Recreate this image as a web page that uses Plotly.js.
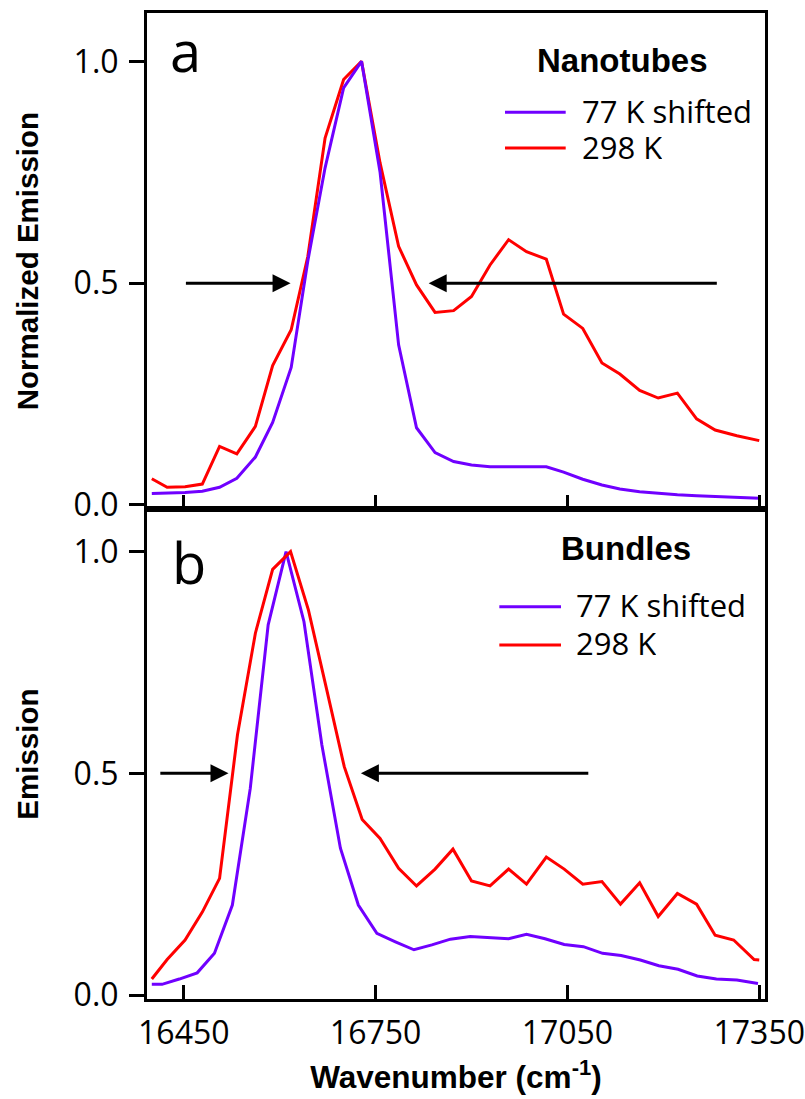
<!DOCTYPE html>
<html>
<head>
<meta charset="utf-8">
<script src="https://cdn.plot.ly/plotly-3.0.1.min.js"></script>
<style>html,body{margin:0;padding:0;background:#fff;}</style>
</head>
<body>
<div id="chart" style="width:805px;height:1099px;"></div>
<script>
// ---- Data ----
// Panel a: nanotubes
var wnA = [16400, 16424, 16452, 16479, 16506, 16533, 16562, 16589, 16618, 16644,
           16671, 16700, 16728, 16757, 16786, 16814, 16843, 16872, 16900, 16929,
           16958, 16986, 17017, 17044, 17074, 17104, 17132, 17163, 17192, 17222,
           17252, 17281, 17315, 17350];
var nano77 = [0.026, 0.027, 0.028, 0.031, 0.040, 0.060, 0.108, 0.186, 0.310, 0.55,
              0.76, 0.94, 1.0, 0.75, 0.361, 0.174, 0.118, 0.098, 0.090, 0.086,
              0.086, 0.087, 0.086, 0.074, 0.058, 0.045, 0.036, 0.030, 0.026, 0.023,
              0.021, 0.019, 0.016, 0.015];
var nano298 = [0.059, 0.040, 0.041, 0.047, 0.132, 0.115, 0.177, 0.314, 0.395, 0.56,
               0.827, 0.959, 1.0, 0.771, 0.583, 0.496, 0.434, 0.438, 0.470, 0.541,
               0.598, 0.571, 0.554, 0.430, 0.398, 0.320, 0.295, 0.258, 0.241, 0.252,
               0.194, 0.169, 0.156, 0.145];

// Panel b: bundles
var wnB77 = [16400, 16416, 16443, 16471, 16498, 16526, 16554, 16582, 16610, 16638,
             16666, 16695, 16723, 16752, 16781, 16810, 16838, 16867, 16898, 16929,
             16958, 16986, 17015, 17045, 17075, 17105, 17134, 17164, 17193, 17223,
             17253, 17283, 17315, 17348];
var bund77 = [0.024, 0.024, 0.036, 0.050, 0.094, 0.203, 0.466, 0.835, 1.0, 0.842,
              0.564, 0.331, 0.203, 0.139, 0.120, 0.102, 0.113, 0.126, 0.132, 0.129,
              0.127, 0.137, 0.127, 0.114, 0.109, 0.094, 0.089, 0.079, 0.066, 0.058,
              0.043, 0.036, 0.034, 0.026];
var wnB298 = [16400, 16424, 16452, 16479, 16506, 16534, 16562, 16589, 16617, 16645,
              16673, 16701, 16729, 16757, 16786, 16814, 16843, 16871, 16900, 16929,
              16958, 16986, 17017, 17045, 17074, 17104, 17133, 17163, 17192, 17222,
              17252, 17281, 17310, 17342, 17350];
var bund298 = [0.036, 0.080, 0.124, 0.187, 0.263, 0.587, 0.816, 0.960, 1.0, 0.868,
               0.692, 0.515, 0.396, 0.353, 0.286, 0.246, 0.284, 0.329, 0.257, 0.246,
               0.284, 0.250, 0.311, 0.284, 0.250, 0.256, 0.205, 0.253, 0.177, 0.229,
               0.205, 0.135, 0.124, 0.080, 0.079];

// Half-width arrows (tail x, tip x) at y = 0.5
var arrowsA = [[16451, 16617], [17286, 16833]];
var arrowsB = [[16411, 16520], [17085, 16727]];

var xTicks = [16450, 16750, 17050, 17350];
var xTickText = ['16450', '16750', '17050', '17350'];
var yTicks = [0, 0.5, 1.0];
var yTickText = ['0.0', '0.5', '1.0'];
var seriesNames = ['77 K shifted', '298 K'];
var panelTitles = ['Nanotubes', 'Bundles'];
var panelLetters = ['a', 'b'];

var PURPLE = '#7000ff', RED = '#ff0000';
var tickFont = {family: 'Open Sans', size: 32, color: '#000'};
var titleFont = {family: 'Liberation Sans', size: 29.5, color: '#000', weight: 'bold'};
var legTextFont = {family: 'Open Sans', size: 31, color: '#000'};
var legTitleFont = {family: 'Liberation Sans', size: 33, color: '#000', weight: 'bold'};

var traces = [
  {x: wnA, y: nano298, xaxis: 'x2', yaxis: 'y2', mode: 'lines', name: seriesNames[1],
   line: {color: RED, width: 3}},
  {x: wnA, y: nano77, xaxis: 'x2', yaxis: 'y2', mode: 'lines', name: seriesNames[0],
   line: {color: PURPLE, width: 3}},
  {x: wnB77, y: bund77, xaxis: 'x', yaxis: 'y', mode: 'lines', name: seriesNames[0],
   line: {color: PURPLE, width: 3}},
  {x: wnB298, y: bund298, xaxis: 'x', yaxis: 'y', mode: 'lines', name: seriesNames[1],
   line: {color: RED, width: 3}}
];

function xAxisCfg(showLabels, anchor) {
  return {
    anchor: anchor, range: [16392.5, 17359], tickvals: xTicks, ticktext: xTickText,
    ticks: 'inside', ticklen: 14, tickwidth: 3, tickcolor: '#000',
    showline: true, mirror: true, linewidth: 3, linecolor: '#000',
    showgrid: false, zeroline: false, showticklabels: showLabels,
    tickfont: tickFont, ticklabelstandoff: 4, ticklabeloverflow: 'allow'
  };
}
function yAxisCfg(domain, range, title, anchor) {
  return {
    anchor: anchor, domain: domain, range: range, tickvals: yTicks, ticktext: yTickText,
    ticks: 'outside', ticklen: 15, tickwidth: 3, tickcolor: '#000',
    showline: true, mirror: true, linewidth: 3, linecolor: '#000',
    showgrid: false, zeroline: false, tickfont: tickFont, ticklabelstandoff: 4,
    title: {text: title, font: titleFont, standoff: 27}
  };
}

function arrowAnn(a, xr, yr) {
  return {xref: xr, yref: yr, axref: xr, ayref: yr, x: a[1], y: 0.5, ax: a[0], ay: 0.5,
          text: '', showarrow: true, arrowhead: 2, arrowwidth: 3, arrowsize: 1.2,
          arrowcolor: '#000', standoff: 0, startstandoff: 0};
}

var ann = [];
arrowsA.forEach(function (a) { ann.push(arrowAnn(a, 'x2', 'y2')); });
arrowsB.forEach(function (a) { ann.push(arrowAnn(a, 'x', 'y')); });
// panel letters
ann.push({xref: 'paper', yref: 'paper', x: 0.034, y: 0.962, xanchor: 'left', yanchor: 'middle',
          text: panelLetters[0], showarrow: false, font: {family: 'Open Sans', size: 56, color: '#000'}});
ann.push({xref: 'paper', yref: 'paper', x: 0.038, y: 0.443, xanchor: 'left', yanchor: 'middle',
          text: panelLetters[1], showarrow: false, font: {family: 'Open Sans', size: 56, color: '#000'}});

// hand-built legends (title + two entries each)
var legends = [
  {title: panelTitles[0], tx: 0.7694, ty: 0.9523, textX: 0.7015, rowY: [0.9016, 0.8646],
   lineX: [0.5793, 0.6775], lineY: [0.8993, 0.8631]},
  {title: panelTitles[1], tx: 0.7743, ty: 0.4564, textX: 0.6921, rowY: [0.4002, 0.3614],
   lineX: [0.5701, 0.6699], lineY: [0.3979, 0.3590]}
];
var legColors = [PURPLE, RED];
var shapes = [];
legends.forEach(function (L) {
  ann.push({xref: 'paper', yref: 'paper', x: L.tx, y: L.ty, xanchor: 'center', yanchor: 'middle',
            text: L.title, showarrow: false, font: legTitleFont});
  for (var i = 0; i < 2; i++) {
    ann.push({xref: 'paper', yref: 'paper', x: L.textX, y: L.rowY[i], xanchor: 'left', yanchor: 'middle',
              text: seriesNames[i], showarrow: false, font: legTextFont, height: 35, borderpad: 0});
    shapes.push({type: 'line', xref: 'paper', yref: 'paper', x0: L.lineX[0], x1: L.lineX[1],
                 y0: L.lineY[i], y1: L.lineY[i], line: {color: legColors[i], width: 3}});
  }
});

var layout = {
  width: 805, height: 1099,
  margin: {l: 147, r: 40, t: 13, b: 100},
  paper_bgcolor: '#fff', plot_bgcolor: '#fff',
  showlegend: false,
  xaxis: Object.assign(xAxisCfg(true, 'y'), {
    title: {text: 'Wavenumber (cm<sup>-1</sup>)', font: {family: 'Liberation Sans', size: 31.5, color: '#000', weight: 'bold'}, standoff: 14}
  }),
  xaxis2: xAxisCfg(false, 'y2'),
  yaxis: yAxisCfg([0, 0.4967], [-0.009, 1.0956], 'Emission', 'x'),
  yaxis2: yAxisCfg([0.4967, 1], [-0.0097, 1.109], 'Normalized Emission', 'x2'),
  annotations: ann,
  shapes: shapes
};

Plotly.newPlot('chart', traces, layout, {displayModeBar: false, staticPlot: true});
</script>
</body>
</html>
